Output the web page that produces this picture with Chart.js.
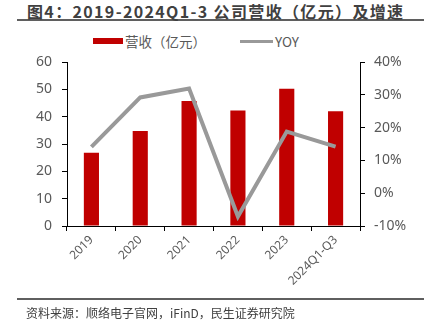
<!DOCTYPE html>
<html>
<head>
<meta charset="utf-8">
<script src="https://cdn.jsdelivr.net/npm/chart.js@4"></script>
<style>
  html, body { margin: 0; padding: 0; background: #fff; }
  #wrap { position: relative; width: 429px; height: 327px; overflow: hidden; }
  #title {
    position: absolute; left: 17px; top: 0; width: 407px; height: 21px;
    border-bottom: 2px solid #5f5f5f;
    font: bold 16px "Noto Sans CJK SC", sans-serif; color: #404040; letter-spacing: 1.35px;
    padding-left: 10px; box-sizing: border-box; line-height: 22px; white-space: nowrap;
  }
  #source {
    position: absolute; left: 17px; top: 298px; width: 407px;
    border-top: 2px solid #5f5f5f;
    font: 12px "Noto Sans CJK SC", sans-serif; color: #404040;
    padding-left: 9px; box-sizing: border-box; line-height: 25px; white-space: nowrap;
  }
  .legend {
    position: absolute; top: 32px; height: 18px; display: flex; align-items: center;
    font: 13.5px "Noto Sans CJK SC", sans-serif; color: #595959; white-space: nowrap;
  }
  .legend i { display: inline-block; margin-right: 2px; }
  canvas { position: absolute; left: 0; top: 0; }
</style>
</head>
<body>
<div id="wrap">
  <div id="title">图4：2019-2024Q1-3 公司营收（亿元）及增速</div>
  <div class="legend" style="left:93px"><i style="width:30px;height:6px;background:#C00000"></i>营收（亿元）</div>
  <div class="legend" style="left:240px"><i style="width:33px;height:3px;background:#999999"></i>YOY</div>
  <canvas id="chart" width="429" height="327"></canvas>
  <div id="source">资料来源：顺络电子官网，iFinD，民生证券研究院</div>
</div>
<script>
const categories = ['2019', '2020', '2021', '2022', '2023', '2024Q1-Q3'];
const revenue = [26.8, 34.8, 45.7, 42.3, 50.2, 42.0];
const yoy = [14.1, 29.2, 31.9, -7.1, 18.8, 14.2];
const leftTicks = [0, 10, 20, 30, 40, 50, 60];
const rightTicks = [-10, 0, 10, 20, 30, 40];

const tickFont = { family: '"Noto Sans", "Noto Sans CJK SC", sans-serif', size: 14 };
const axisGrid = { drawOnChartArea: false, color: '#000', tickLength: 5, lineWidth: 1 };

new Chart(document.getElementById('chart'), {
  data: {
    labels: categories,
    datasets: [
      {
        type: 'line', label: 'YOY', data: yoy, yAxisID: 'y1',
        borderColor: '#999999', borderWidth: 4, pointRadius: 0, tension: 0, order: 0
      },
      {
        type: 'bar', label: '营收（亿元）', data: revenue, yAxisID: 'y',
        backgroundColor: '#C00000', categoryPercentage: 1, barPercentage: 0.31, order: 1
      }
    ]
  },
  options: {
    responsive: false,
    animation: false,
    layout: { padding: { top: 62, left: 0, right: 0, bottom: 0 } },
    plugins: { legend: { display: false }, tooltip: { enabled: false } },
    scales: {
      x: {
        grid: { ...axisGrid, offset: true },
        border: { color: '#000', width: 1 },
        ticks: { color: '#595959', font: { ...tickFont, size: 12 }, minRotation: 45, maxRotation: 45, padding: 2 },
        afterFit: s => { s.height = 101; s.paddingLeft = 0; s.paddingRight = 0; }
      },
      y: {
        position: 'left', min: 0, max: 60,
        afterBuildTicks: s => { s.ticks = leftTicks.map(v => ({ value: v })); },
        grid: axisGrid,
        border: { color: '#000', width: 1 },
        ticks: { color: '#595959', font: tickFont, padding: 10 },
        afterFit: s => { s.width = 67; }
      },
      y1: {
        position: 'right', min: -10, max: 40,
        afterBuildTicks: s => { s.ticks = rightTicks.map(v => ({ value: v })); },
        grid: axisGrid,
        border: { color: '#000', width: 1 },
        ticks: { color: '#595959', font: tickFont, padding: 9, callback: v => v + '%' },
        afterFit: s => { s.width = 69; }
      }
    }
  }
});
</script>
</body>
</html>
